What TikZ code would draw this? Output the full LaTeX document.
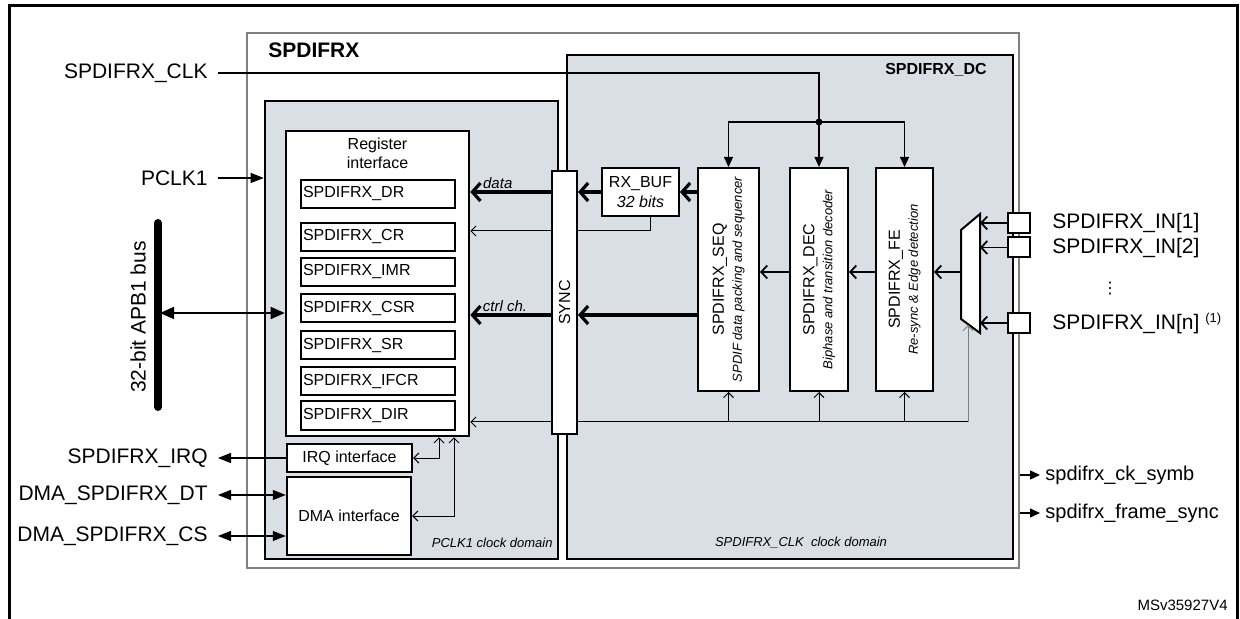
\documentclass[tikz,border=0pt]{standalone}
\usepackage{fontspec}
\setmainfont{Liberation Sans}
\newfontfamily\symfont{DejaVu Sans}
\usetikzlibrary{arrows.meta,calc}

\definecolor{dombg}{RGB}{218,222,229}
\definecolor{framegray}{RGB}{128,128,128}

\tikzset{
	blk/.style = {draw, fill=white, line width=1pt, inner sep=0pt, font=\fontsize{8}{9.5}\selectfont},
	regbox/.style = {blk, text width=75pt, minimum height=14pt, inner xsep=1pt, align=left},
	dom/.style = {draw, fill=dombg, line width=1.3pt},
	sig/.style = {font=\fontsize{10.5}{12}\selectfont, inner sep=5pt},
	note/.style = {font=\fontsize{6.5}{7.5}\selectfont\itshape, inner sep=1pt},
	wire/.style = {line width=0.5pt},
	tarr/.style = {line width=0.5pt, -{Straight Barb[length=2.5pt,width=5pt]}},
	tbi/.style = {line width=0.5pt, {Straight Barb[length=2.5pt,width=5pt]}-{Straight Barb[length=2.5pt,width=5pt]}},
	marr/.style = {line width=0.9pt, -{Straight Barb[length=3pt,width=6.5pt]}},
	barr/.style = {line width=1.6pt, -{Straight Barb[length=4pt,width=9pt]}},
	farr/.style = {line width=0.6pt, -{Triangle[length=5pt,width=4.5pt]}},
	larr/.style = {line width=0.6pt, -{Triangle[length=6.5pt,width=5pt]}},
	lbi/.style = {line width=0.6pt, {Triangle[length=6.5pt,width=5pt]}-{Triangle[length=6.5pt,width=5pt]}}
}

\begin{document}
\begin{tikzpicture}[x=0.5pt, y=-0.5pt]
	\useasboundingbox (0,0) rectangle (1240,619);
	\draw[line width=1.5pt] (9,619) -- (9,6) -- (1237,6) -- (1237,619);

	% peripheral and clock domains
	\node[draw=framegray, fill=white, line width=0.8pt, minimum width=386pt, minimum height=267.5pt] (spdif) at (633,300.5) {};
	\node[dom, minimum width=146.5pt, minimum height=229pt] (pclkdom) at (411.5,330) {};
	\node[dom, minimum width=223pt, minimum height=252pt] (dcdom) at (790,307) {};
	\node[anchor=west, font=\bfseries\fontsize{10.5}{12}\selectfont, inner sep=0pt] (title) at (268,50) {SPDIFRX};
	\node[anchor=east, font=\bfseries\fontsize{8}{9}\selectfont, inner sep=0pt] (dctitle) at (987,70) {SPDIFRX\_DC};
	\node[note, anchor=east] (pclknote) at (555,543) {PCLK1 clock domain};
	\node[note] (dcnote) at (801,543) {SPDIFRX\_CLK\ \ clock domain};

	% register side
	\node[blk, line width=1.3pt, minimum width=91.5pt, minimum height=152.5pt] (regif) at (377.5,283.5) {};
	\node[font=\fontsize{8}{9.5}\selectfont, align=center, inner sep=0pt] (regiflbl) at (377.5,153) {Register\\interface};
	\foreach \reg/\y in {DR/194, CR/237, IMR/272, CSR/308.5, SR/345.5, IFCR/381.5, DIR/415.5}{
	\node[regbox] (r\reg) at (378,\y) {SPDIFRX\_\reg};
	}
	\node[blk, line width=1.2pt, minimum width=62.5pt, minimum height=14pt] (irq) at (349.5,458) {IRQ interface};
	\node[blk, line width=1.2pt, minimum width=62pt, minimum height=39pt] (dma) at (349,516) {DMA interface};

	% decoder side
	\node[blk, minimum width=12.5pt, minimum height=131.5pt] (sync) at (564.5,302.5) {};
	\node[rotate=90, font=\fontsize{8}{9}\selectfont, inner sep=0pt] (synclbl) at (sync) {SYNC};
	\node[blk, minimum width=38.5pt, minimum height=24pt, align=center, font=\fontsize{8}{10}\selectfont] (rxbuf) at (640.5,192) {RX\_BUF\\\textit{32 bits}};
	\node[blk, minimum width=30.5pt, minimum height=111.5pt] (seq) at (728.5,279.5) {};
	\node[blk, minimum width=29pt, minimum height=111.5pt] (dec) at (819,279.5) {};
	\node[blk, minimum width=28.5pt, minimum height=111.5pt] (fe) at (904.5,279.5) {};
	\node[rotate=90, align=center, font=\fontsize{8}{9}\selectfont, inner sep=0pt] (seqlbl) at (seq) {SPDIFRX\_SEQ\\{\itshape\fontsize{6.5}{8}\selectfont SPDIF data packing and sequencer}};
	\node[rotate=90, align=center, font=\fontsize{8}{9}\selectfont, inner sep=0pt] (declbl) at (dec) {SPDIFRX\_DEC\\{\itshape\fontsize{6.5}{8}\selectfont Biphase and transition decoder}};
	\node[rotate=90, align=center, font=\fontsize{8}{9}\selectfont, inner sep=0pt] (felbl) at (fe) {SPDIFRX\_FE\\{\itshape\fontsize{6.5}{8}\selectfont Re-sync \& Edge detection}};

	% input mux and pads
	\coordinate (muxo) at (961,272);
	\coordinate (muxi) at (980,0);
	\coordinate (muxs) at (968,325);
	\draw[fill=white, line width=1pt] (961,230) -- (980,214) -- (980,333) -- (961,319) -- cycle;
	\foreach \n/\y in {1/223, 2/247.5, n/323}{
	\node[blk, minimum width=11pt, minimum height=10pt] (pad\n) at (1019,\y) {};
	\draw[marr] (pad\n.west) -- (pad\n.west -| muxi);
	}
	\node[sig, anchor=west, inner sep=0pt] (in1) at (1052,223) {SPDIFRX\_IN[1]};
	\node[sig, anchor=west, inner sep=0pt] (in2) at (1052,248) {SPDIFRX\_IN[2]};
	\node[inner sep=0pt, font=\symfont\fontsize{8}{8}\selectfont] (vdots) at (1110,289) {⋮};
	\node[sig, anchor=west, inner sep=0pt] (inn) at (1052,323) {SPDIFRX\_IN[n] \raisebox{3.5pt}{\fontsize{6.5}{7}\selectfont(1)}};

	% clock
	\node[sig, anchor=east] (clk) at (218,73) {SPDIFRX\_CLK};
	\coordinate (clky) at (0,122);
	\draw[farr] (clk.east) -| (dec.north);
	\draw[farr] (dec.north |- clky) -| (seq.north);
	\draw[farr] (dec.north |- clky) -| (fe.north);
	\fill (dec.north |- clky) circle (3.5);
	\node[sig, anchor=east] (pclk) at (218,178) {PCLK1};
	\draw[larr] (pclk.east) -- (pclk.east -| pclkdom.west);

	% bus
	\coordinate (busT) at (158,223);
	\coordinate (busB) at (158,407);
	\coordinate (busc) at (160,313);
	\draw[line width=4pt, line cap=round] (busT) -- (busB);
	\node[sig, rotate=90, inner sep=0pt] (buslbl) at (138,317) {32-bit APB1 bus};
	\draw[line width=0.8pt, {Triangle[length=7pt,width=6pt]}-{Triangle[length=7pt,width=6pt]}] (busc) -- (busc -| regif.west);

	% irq and dma
	\node[sig, anchor=east] (irqlbl) at (218,458) {SPDIFRX\_IRQ};
	\node[sig, anchor=east] (dtlbl) at (218,495) {DMA\_SPDIFRX\_DT};
	\node[sig, anchor=east] (cslbl) at (218,536) {DMA\_SPDIFRX\_CS};
	\draw[larr] (irq.west) -- (irqlbl.east);
	\draw[lbi] (dtlbl.east) -- (dtlbl.east -| dma.west);
	\draw[lbi] (cslbl.east) -- (cslbl.east -| dma.west);
	\coordinate (irqx) at (439,0);
	\coordinate (dmax) at (454,0);
	\draw[tbi] (irq.east) -| (irqx |- regif.south);
	\draw[tbi] (dma.east) -| (dmax |- regif.south);

	% data path
	\coordinate (datay) at (0,192);
	\coordinate (ctrly) at (0,315);
	\coordinate (bufy) at (0,231);
	\coordinate (midy) at (0,272);
	\coordinate (fby) at (0,422);
	\draw[barr] (seq.west |- datay) -- (rxbuf.east);
	\draw[barr] (rxbuf.west) -- (sync.east |- datay);
	\draw[barr] (sync.west |- datay) -- (regif.east |- datay) node[note, font=\fontsize{7.5}{8}\selectfont\itshape, pos=0.66, above] {data};
	\draw[barr] (seq.west |- ctrly) -- (sync.east |- ctrly);
	\draw[barr] (sync.west |- ctrly) -- (regif.east |- ctrly) node[note, font=\fontsize{7.5}{8}\selectfont\itshape, pos=0.57, above] {ctrl ch.};
	\draw[wire] ($(rxbuf.south)+(9.5,0)$) |- (sync.east |- bufy);
	\draw[tarr] (sync.west |- bufy) -- (regif.east |- bufy);
	\draw[marr] (muxo) -- (fe.east |- midy);
	\draw[marr] (fe.west |- midy) -- (dec.east |- midy);
	\draw[marr] (dec.west |- midy) -- (seq.east |- midy);
	\draw[tarr, draw=framegray] (muxs |- fby) -- (muxs);
	\draw[wire] (muxs |- fby) -- (sync.east |- fby);
	\draw[tarr] (sync.west |- fby) -- (regif.east |- fby);
	\foreach \b in {seq,dec,fe}{
	\draw[tarr] (\b.south |- fby) -- (\b.south);
	}

	% outputs
	\node[sig, anchor=west, inner sep=2.5pt, font=\fontsize{10}{12}\selectfont] (cksym) at (1040,475) {spdifrx\_ck\_symb};
	\node[sig, anchor=west, inner sep=2.5pt, font=\fontsize{10}{12}\selectfont] (fsync) at (1040,513) {spdifrx\_frame\_sync};
	\draw[farr] (cksym.west -| spdif.east) -- (cksym.west);
	\draw[farr] (fsync.west -| spdif.east) -- (fsync.west);
	\node[font=\fontsize{7.5}{9}\selectfont, anchor=east, inner sep=0pt] (msv) at (1228,605) {MSv35927V4};
\end{tikzpicture}
\end{document}
